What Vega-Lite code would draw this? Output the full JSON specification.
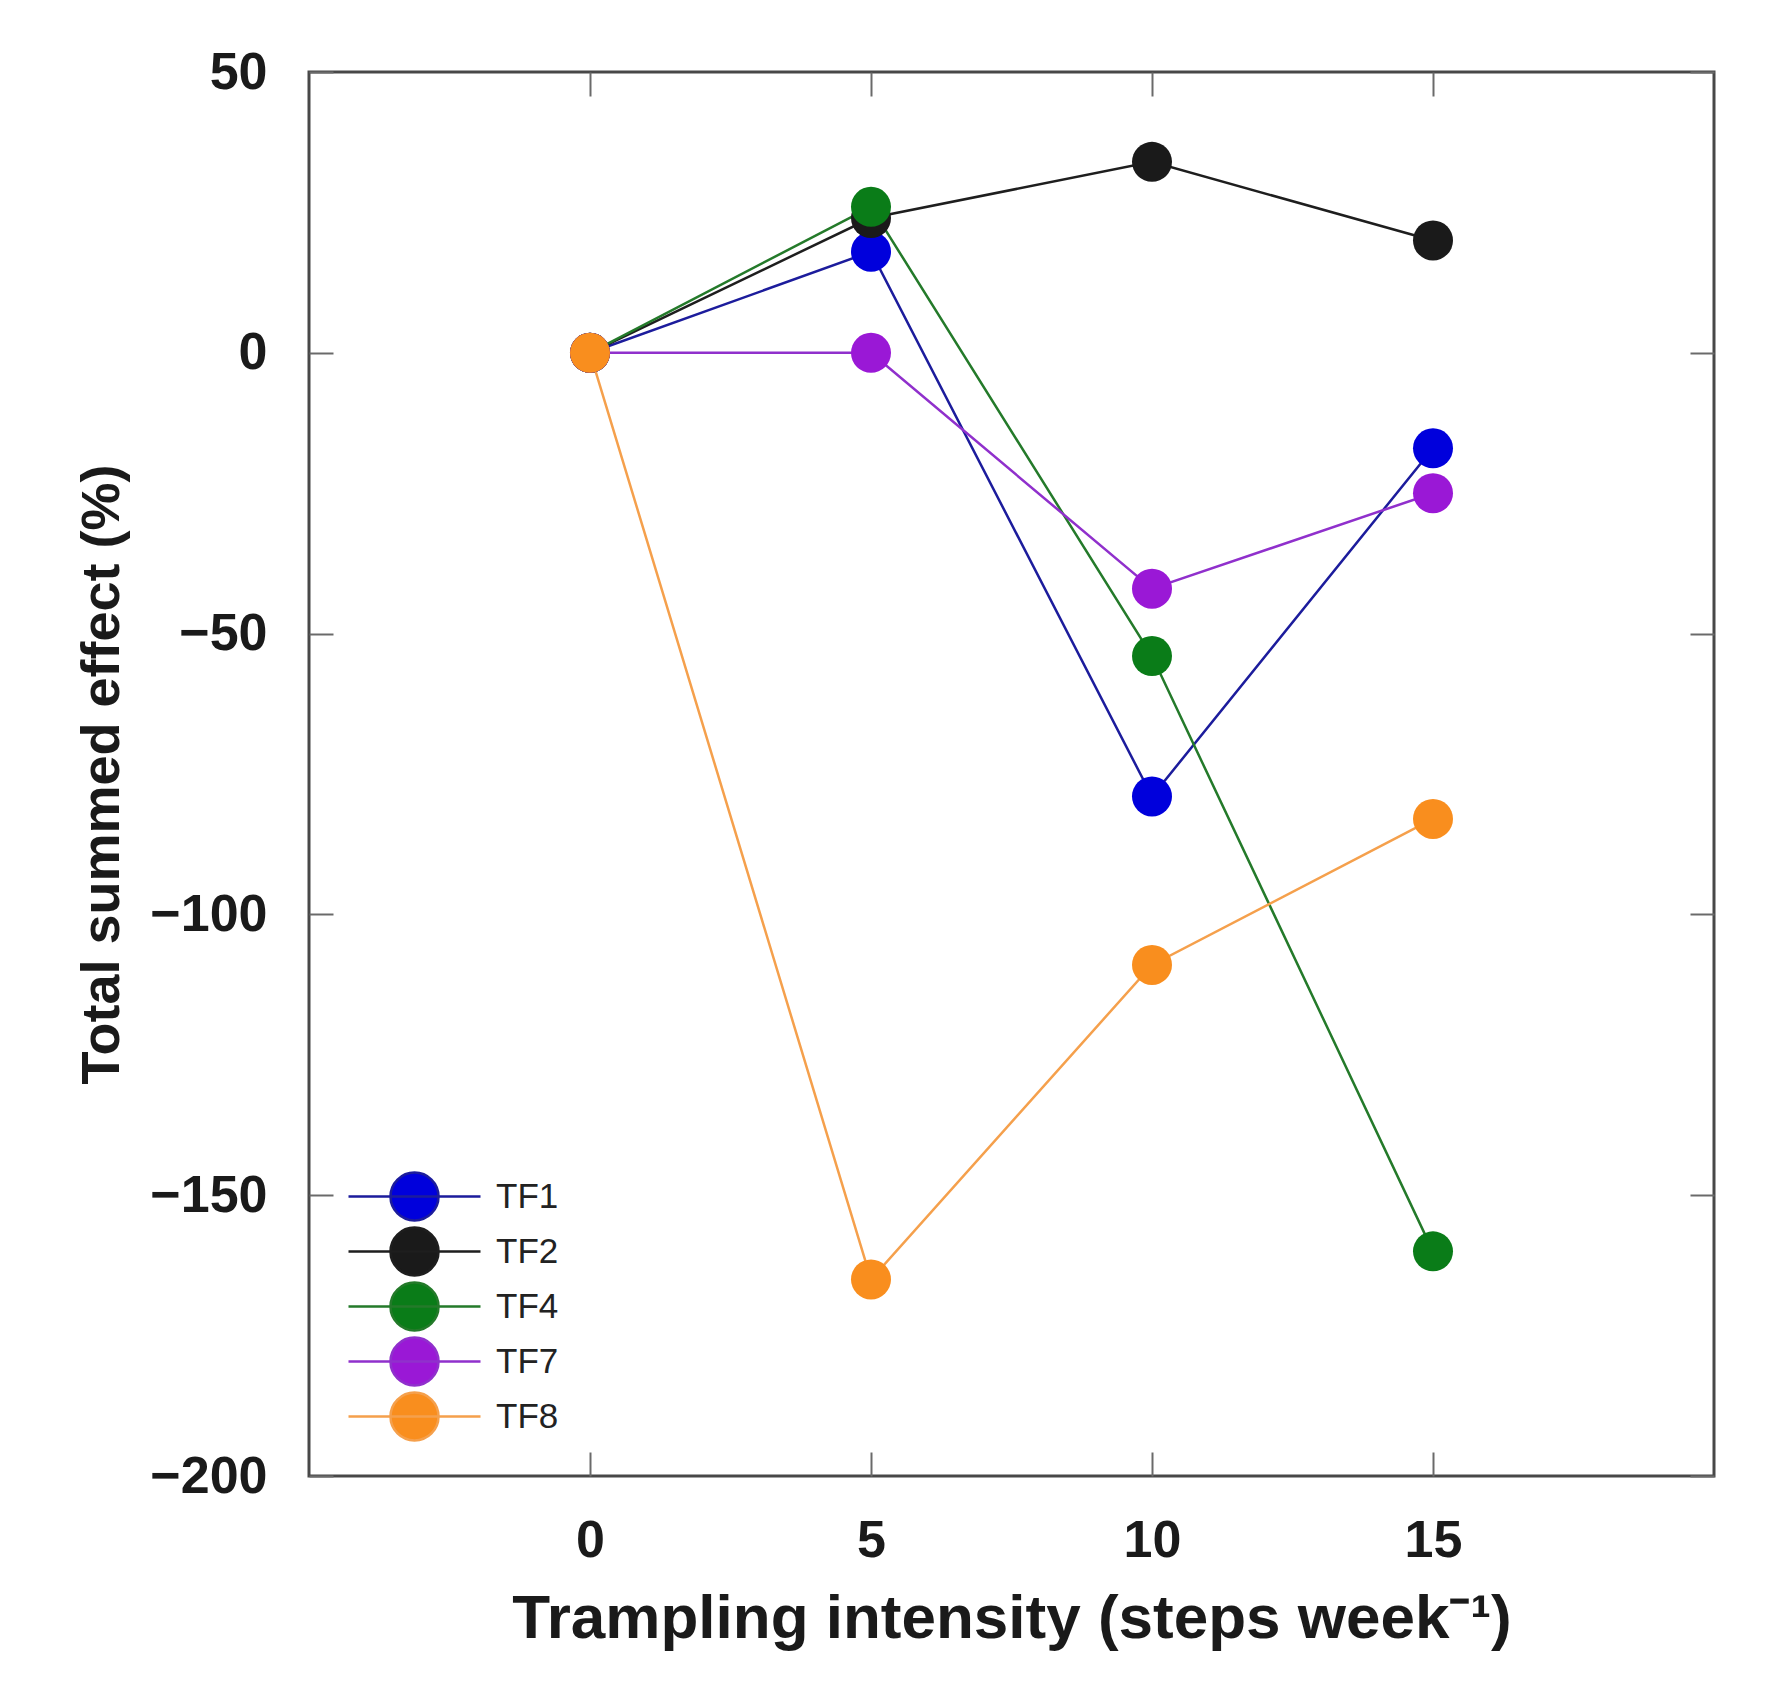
{
  "$schema": "https://vega.github.io/schema/vega-lite/v6.json",
  "autosize": "none",
  "width": 1405,
  "height": 1404,
  "padding": {"left": 309, "top": 72, "right": 70, "bottom": 205},
  "background": "white",
  "data": {
    "values": [
      {"series": "TF1", "steps": 0, "effect": 0},
      {"series": "TF1", "steps": 5, "effect": 18},
      {"series": "TF1", "steps": 10, "effect": -79},
      {"series": "TF1", "steps": 15, "effect": -17},
      {"series": "TF2", "steps": 0, "effect": 0},
      {"series": "TF2", "steps": 5, "effect": 24},
      {"series": "TF2", "steps": 10, "effect": 34},
      {"series": "TF2", "steps": 15, "effect": 20},
      {"series": "TF4", "steps": 0, "effect": 0},
      {"series": "TF4", "steps": 5, "effect": 26},
      {"series": "TF4", "steps": 10, "effect": -54},
      {"series": "TF4", "steps": 15, "effect": -160},
      {"series": "TF7", "steps": 0, "effect": 0},
      {"series": "TF7", "steps": 5, "effect": 0},
      {"series": "TF7", "steps": 10, "effect": -42},
      {"series": "TF7", "steps": 15, "effect": -25},
      {"series": "TF8", "steps": 0, "effect": 0},
      {"series": "TF8", "steps": 5, "effect": -165},
      {"series": "TF8", "steps": 10, "effect": -109},
      {"series": "TF8", "steps": 15, "effect": -83}
    ]
  },
  "layer": [
    {
      "mark": {"type": "line", "strokeWidth": 2.5},
      "encoding": {
        "x": {
          "field": "steps", "type": "quantitative",
          "scale": {"domain": [-5, 20], "nice": false, "zero": false},
          "axis": {
            "orient": "bottom", "values": [0, 5, 10, 15],
            "title": "Trampling intensity (steps week⁻¹)",
            "titleFontSize": 62, "titlePadding": 22,
            "labelPadding": 63
          }
        },
        "y": {
          "field": "effect", "type": "quantitative",
          "scale": {"domain": [-200, 50], "nice": false, "zero": false},
          "axis": {
            "orient": "left", "values": [-200, -150, -100, -50, 0, 50],
            "title": "Total summed effect (%)",
            "titleFontSize": 54, "titlePadding": 20,
            "labelPadding": 66
          }
        },
        "stroke": {
          "field": "series", "type": "nominal",
          "scale": {
            "domain": ["TF1", "TF2", "TF4", "TF7", "TF8"],
            "range": ["#1c1c9c", "#1e1e1e", "#247a2a", "#9030cc", "#f5a04c"]
          },
          "legend": {
            "title": null, "orient": "none", "legendX": 80, "legendY": 1099,
            "padding": 0, "symbolType": "M-2.75,0H2.75M1,0A1,1,0,1,1,-1,0A1,1,0,1,1,1,0Z",
            "symbolSize": 2304, "symbolStrokeWidth": 2.5, "symbolOpacity": 1,
            "labelFont": "Liberation Sans", "labelFontSize": 35, "labelColor": "#222222",
            "labelOffset": 56, "rowPadding": -4
          }
        }
      }
    },
    {
      "mark": {"type": "point", "filled": true, "size": 1600, "opacity": 1},
      "encoding": {
        "x": {
          "field": "steps", "type": "quantitative",
          "axis": {"orient": "top", "values": [0, 5, 10, 15], "labels": false, "title": null}
        },
        "y": {
          "field": "effect", "type": "quantitative",
          "axis": {"orient": "right", "values": [-200, -150, -100, -50, 0, 50], "labels": false, "title": null}
        },
        "fill": {
          "field": "series", "type": "nominal",
          "scale": {
            "domain": ["TF1", "TF2", "TF4", "TF7", "TF8"],
            "range": ["#0000dc", "#1a1a1a", "#0a7c18", "#9a18d6", "#f98e1e"]
          },
          "legend": {
            "title": null, "orient": "none", "legendX": 80, "legendY": 1099,
            "padding": 0, "symbolType": "M-2.75,0H2.75M1,0A1,1,0,1,1,-1,0A1,1,0,1,1,1,0Z",
            "symbolSize": 2304, "symbolStrokeWidth": 2.5, "symbolOpacity": 1,
            "labelFont": "Liberation Sans", "labelFontSize": 35, "labelColor": "#222222",
            "labelOffset": 56, "rowPadding": -4
          }
        }
      }
    }
  ],
  "resolve": {"axis": {"x": "independent", "y": "independent"}},
  "config": {
    "font": "Liberation Sans",
    "view": {"stroke": "#484848", "strokeWidth": 3},
    "axis": {
      "domain": false,
      "grid": false,
      "tickSize": -24,
      "tickColor": "#6a6a6a",
      "tickWidth": 2,
      "labelFont": "Liberation Sans",
      "labelFontSize": 52,
      "labelFontWeight": "bold",
      "labelColor": "#1a1a1a",
      "titleFont": "Liberation Sans",
      "titleFontWeight": "bold",
      "titleColor": "#1a1a1a"
    }
  }
}
